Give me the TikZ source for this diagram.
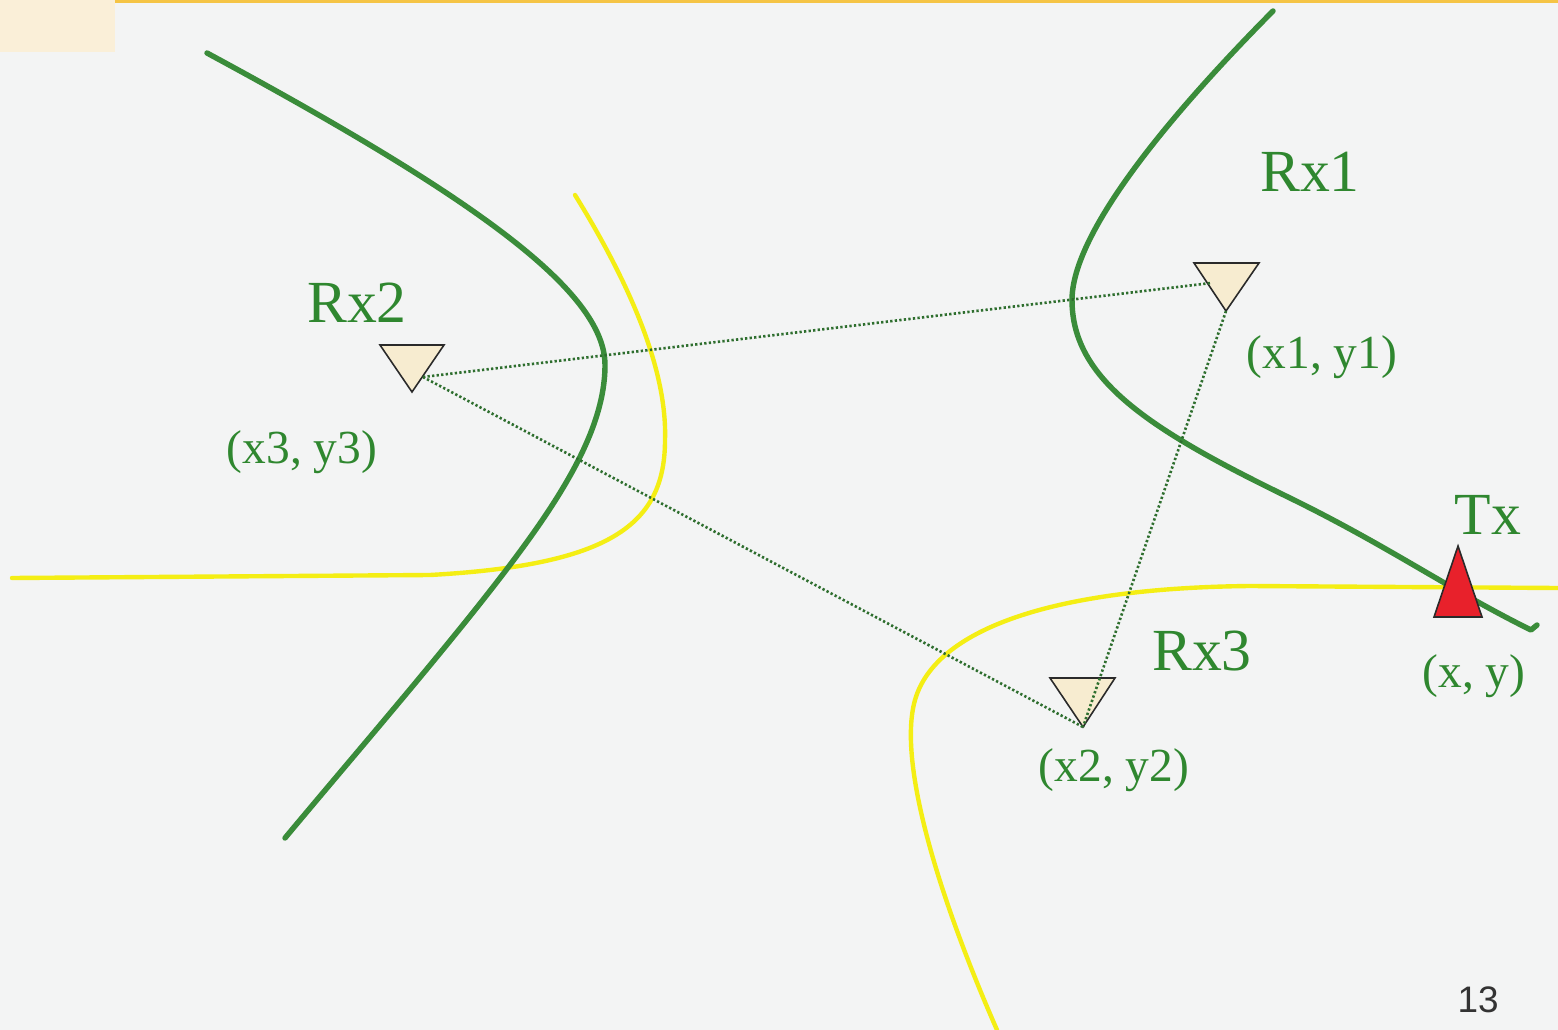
\documentclass[tikz,border=0pt]{standalone}
\usepackage{fontspec}
\setmainfont{Liberation Serif}
\newfontfamily\pagenofont{Liberation Sans}
\usetikzlibrary{calc}
\definecolor{PageBg}{HTML}{F3F4F4}
\definecolor{TopBar}{HTML}{F5C445}
\definecolor{CornerTab}{HTML}{FAEFD8}
\definecolor{HypGreen}{HTML}{3A8C3A}
\definecolor{HypYellow}{HTML}{F4EE14}
\definecolor{LabelGreen}{HTML}{2F872F}
\definecolor{DotGreen}{HTML}{2E6E2E}
\definecolor{RxFill}{HTML}{F7ECD0}
\definecolor{TxRed}{HTML}{E8212B}
\definecolor{MarkEdge}{HTML}{2A2A2A}
\tikzset{
  hypgreen/.style={draw=HypGreen, line width=3.1pt, line cap=round, line join=round},
  hypyellow/.style={draw=HypYellow, line width=2.5pt, line cap=round},
  rxmark/.style={draw=MarkEdge, fill=RxFill, line width=0.9pt},
  txmark/.style={draw=MarkEdge, fill=TxRed, line width=0.9pt},
  linkdots/.style={draw=DotGreen, line width=1.5pt, dash pattern=on 1.3pt off 1.3pt},
  sitelabel/.style={text=LabelGreen, font=\fontsize{34}{40}\selectfont, inner sep=0pt},
  coordlabel/.style={text=LabelGreen, font=\fontsize{27}{32}\selectfont, inner sep=0pt},
}

\begin{document}
\begin{tikzpicture}[x=0.02cm, y=-0.02cm]
  \useasboundingbox (0,0) rectangle (1558,1030);
  \fill[PageBg] (0,0) rectangle (1558,1030);
  \fill[CornerTab] (0,0) rectangle (115,52);
  \fill[TopBar] (115,0) rectangle (1558,3);

  % hyperbolas
  \draw[hypyellow] (575,195) .. controls (640,300) and (667,380) .. (665,440)
    .. controls (665,525) and (610,565) .. (430,575) -- (12,578);
  \draw[hypyellow] (1558,588) -- (1250,586) .. controls (1050,588) and (935,630) .. (915,700)
    .. controls (897,763) and (940,900) .. (997,1030);
  \draw[hypgreen] (207,53) .. controls (470,195) and (605,290) .. (605,365)
    .. controls (605,430) and (560,500) .. (500,578)
    .. controls (440,656) and (350,760) .. (285,838);
  \draw[hypgreen] (1273,11) .. controls (1150,135) and (1072,240) .. (1072,300)
    .. controls (1072,380) and (1150,430) .. (1290,498)
    .. controls (1390,547) and (1450,590) .. (1531,630) -- (1537,625);

  % receivers
  \coordinate (rxone) at (1226,311);
  \coordinate (rxtwo) at (412,392);
  \coordinate (rxthree) at (1083,727);
  \coordinate (rxonein) at (1211,283);
  \coordinate (rxtwoout) at (423,377);
  \draw[rxmark] (rxone) -- ++(-32,-48) -- ++(65,0) -- cycle;
  \draw[rxmark] (rxtwo) -- ++(-32,-47) -- ++(64,0) -- cycle;
  \draw[rxmark] (rxthree) -- ++(-33,-49) -- ++(65,0) -- cycle;

  % baselines between receivers
  \draw[linkdots] (rxtwoout) -- (rxonein);
  \draw[linkdots] (rxone) -- (rxthree);
  \draw[linkdots] (rxtwoout) -- (rxthree);

  % transmitter
  \coordinate (tx) at (1458,546);
  \draw[txmark] (tx) -- ++(24,71) -- ++(-48,0) -- cycle;

  % labels
  \node[sitelabel] (rxonelbl) at (1310,172) {Rx1};
  \node[sitelabel] (rxtwolbl) at (357,303) {Rx2};
  \node[sitelabel] (rxthreelbl) at (1202,651) {Rx3};
  \node[sitelabel] (txlbl) at (1488,515) {Tx};
  \node[coordlabel] (rxonepos) at (1322,357) {(x1, y1)};
  \node[coordlabel] (rxtwopos) at (302,452) {(x3, y3)};
  \node[coordlabel] (rxthreepos) at (1114,770) {(x2, y2)};
  \node[coordlabel] (txpos) at (1474,676) {(x, y)};
  \node[font=\pagenofont\fontsize{21}{24}\selectfont, text=black!80, inner sep=0pt]
    (pageno) at (1478,1000) {13};
\end{tikzpicture}
\end{document}
